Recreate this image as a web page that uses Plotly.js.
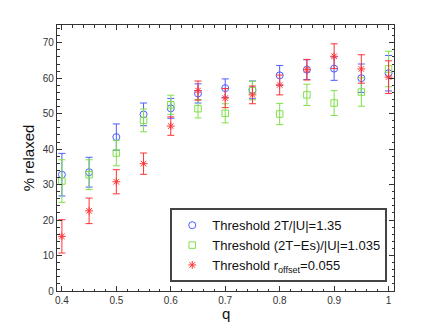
<!DOCTYPE html>
<html>
<head>
<meta charset="utf-8">
<script src="https://cdn.plot.ly/plotly-3.0.1.min.js"></script>
<style>
  body { margin: 0; background: #fff; }
  #chart { width: 436px; height: 328px; }
</style>
</head>
<body>
<div id="chart"></div>
<script>
// q values
var q = [0.4, 0.45, 0.5, 0.55, 0.6, 0.65, 0.7, 0.75, 0.8, 0.85, 0.9, 0.95, 1.0];

// threshold 2T/|U| = 1.35
var relaxedVirial = [32.8, 33.5, 43.4, 49.8, 51.5, 55.7, 57.2, 56.7, 60.8, 62.4, 62.7, 60.0, 61.4];
var errVirial     = [6.0, 4.2, 3.7, 3.2, 2.8, 2.7, 2.6, 2.5, 2.8, 2.8, 3.3, 4.0, 5.0];

// threshold (2T-Es)/|U| = 1.035
var relaxedSurface = [31.0, 32.8, 38.9, 48.1, 52.5, 51.4, 50.1, 56.5, 49.9, 55.3, 53.0, 56.1, 62.6];
var errSurface     = [6.0, 4.2, 3.6, 3.2, 2.7, 2.6, 2.7, 2.6, 3.0, 3.0, 3.5, 4.0, 5.0];

// threshold r_offset = 0.055
var relaxedOffset = [15.4, 22.6, 30.8, 35.9, 46.5, 56.5, 54.4, 55.3, 58.1, 62.4, 66.2, 62.6, 60.3];
var errOffset     = [4.7, 3.6, 3.4, 3.0, 2.6, 2.7, 2.7, 2.5, 2.8, 2.9, 3.5, 4.0, 4.6];

var blue = '#4d5cff', green = '#7fe04a', red = '#ff3333';

function series(name, y, err, color, symbol, size) {
  return {
    x: q, y: y, name: name,
    type: 'scatter', mode: 'markers',
    marker: {symbol: symbol, size: size, color: color, line: {color: color, width: 1}},
    error_y: {type: 'data', array: err, visible: true, color: color, thickness: 1, width: 3.5}
  };
}

var data = [
  series('Threshold 2T/|U|=1.35', relaxedVirial, errVirial, blue, 'circle-open', 7),
  series('Threshold (2T\u2212Es)/|U|=1.035', relaxedSurface, errSurface, green, 'square-open', 6.5),
  series('Threshold r<sub>offset</sub>=0.055', relaxedOffset, errOffset, red, 'asterisk-open', 6.5)
];

var axisCommon = {
  showgrid: false, zeroline: false,
  showline: true, linecolor: '#333', linewidth: 1.2, mirror: 'ticks',
  ticks: 'inside', ticklen: 5, tickcolor: '#333',
  tickfont: {size: 10, color: '#333'}
};

var layout = {
  width: 436, height: 328,
  margin: {l: 57, r: 42, t: 25, b: 37},
  paper_bgcolor: '#fff', plot_bgcolor: '#fff',
  font: {family: '"Liberation Sans", Arial, sans-serif', color: '#111'},
  showlegend: true,
  xaxis: Object.assign({}, axisCommon, {
    range: [0.391, 1.01], dtick: 0.1, tick0: 0.4,
    minor: {dtick: 0.02, ticks: 'inside', ticklen: 2.5, tickcolor: '#333'}
  }),
  yaxis: Object.assign({}, axisCommon, {
    range: [0, 75], dtick: 10, automargin: true,
    minor: {dtick: 2, ticks: 'inside', ticklen: 2.5, tickcolor: '#333'},
    title: {text: '% relaxed', font: {size: 15}, standoff: 4}
  }),
  // x title placed by hand, a little closer to the tick labels
  annotations: [{
    text: 'q', xref: 'paper', yref: 'paper', x: 0.5, y: -0.083,
    xanchor: 'center', yanchor: 'middle', showarrow: false,
    font: {size: 15, color: '#111'}
  }],
  legend: {
    x: 0.336, y: 0.033, xanchor: 'left', yanchor: 'bottom',
    bgcolor: '#fff', bordercolor: '#444', borderwidth: 2,
    font: {size: 13, color: '#111'}
  }
};

Plotly.newPlot('chart', data, layout, {displayModeBar: false, staticPlot: true});
</script>
</body>
</html>
